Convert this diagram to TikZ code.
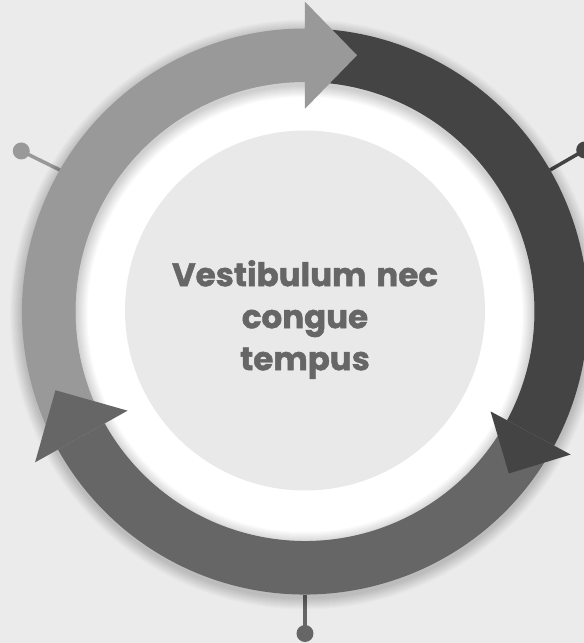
\documentclass[tikz,border=0pt]{standalone}
\usepackage{fontspec}
\setmainfont{Poppins}[BoldFeatures={FakeBold=1.3}]
\usetikzlibrary{calc}
\definecolor{bgc}{HTML}{EBEBEB}
\definecolor{discc}{HTML}{E9E9E9}
\definecolor{lightc}{HTML}{999999}
\definecolor{darkc}{HTML}{444444}
\definecolor{midc}{HTML}{666666}
\definecolor{textc}{HTML}{666666}
\tikzset{
  pinline/.style={line width=3.5pt},
}
\newcommand{\Ro}{283}
\newcommand{\Ri}{229.5}
\newcommand{\Rm}{256.25}
\begin{document}
\begin{tikzpicture}[x=1pt,y=1pt]
\useasboundingbox (-305,311.5) rectangle (279,-331.5);
\fill[bgc] (-305,311.5) rectangle (279,-331.5);
% pins
\coordinate (pl0) at (150:\Ro); \coordinate (pl1) at (150.5:326);
\coordinate (pr0) at (30:\Ro);  \coordinate (pr1) at (30:323);
\coordinate (pb0) at (270:\Ro); \coordinate (pb1) at (270:322);
\draw[pinline,lightc] (pl0) -- (pl1);
\fill[lightc] (pl1) circle (8.5);
\draw[pinline,darkc] (pr0) -- (pr1);
\fill[darkc] (pr1) circle (8.5);
\draw[pinline,midc] (pb0) -- (pb1);
\fill[midc] (pb1) circle (8.5);
% white ring and inner disc
\fill[white] (0,0) circle (\Ri);
\fill[discc] (0,1) circle (180);
% shadow
\foreach \i in {1,...,12}
  \fill[black,opacity=0.017,even odd rule] (0,-3) circle ({\Ro+\i}) (0,-3) circle ({\Ri-\i});
% bodies
\fill[midc] (-30:\Ro) arc[start angle=-30,end angle=-150.8,radius=\Ro] -- (-150.8:\Ri) arc[start angle=-150.8,end angle=-30,radius=\Ri] -- cycle;
\fill[lightc] (206:\Ro) arc[start angle=206,end angle=90,radius=\Ro] -- (90:\Ri) arc[start angle=90,end angle=206,radius=\Ri] -- cycle;
\fill[darkc] (86:\Ro) arc[start angle=86,end angle=-28.3,radius=\Ro] -- (-28.3:\Ri) arc[start angle=-28.3,end angle=86,radius=\Ri] -- cycle;
% heads
\fill[lightc] (90:{\Rm+53.5}) -- ($(90:\Rm)+(0:52)$) -- (90:{\Rm-53.5}) -- cycle;
\fill[darkc] (-28.3:{\Rm+45.5}) -- ($(-28.3:\Rm)+(-118.3:46)$) -- (-28.3:{\Rm-45.5}) -- cycle;
\fill[midc] (209.2:{\Rm+53}) -- ($(209.2:\Rm)+(119.2:53)$) -- (209.2:{\Rm-53}) -- cycle;
% title
\node[align=center,text=textc,font=\fontsize{32.5}{42}\selectfont\bfseries] (title) at (0,-8) {Vestibulum\hspace{3pt} nec\\congue\\tempus};
\end{tikzpicture}
\end{document}
